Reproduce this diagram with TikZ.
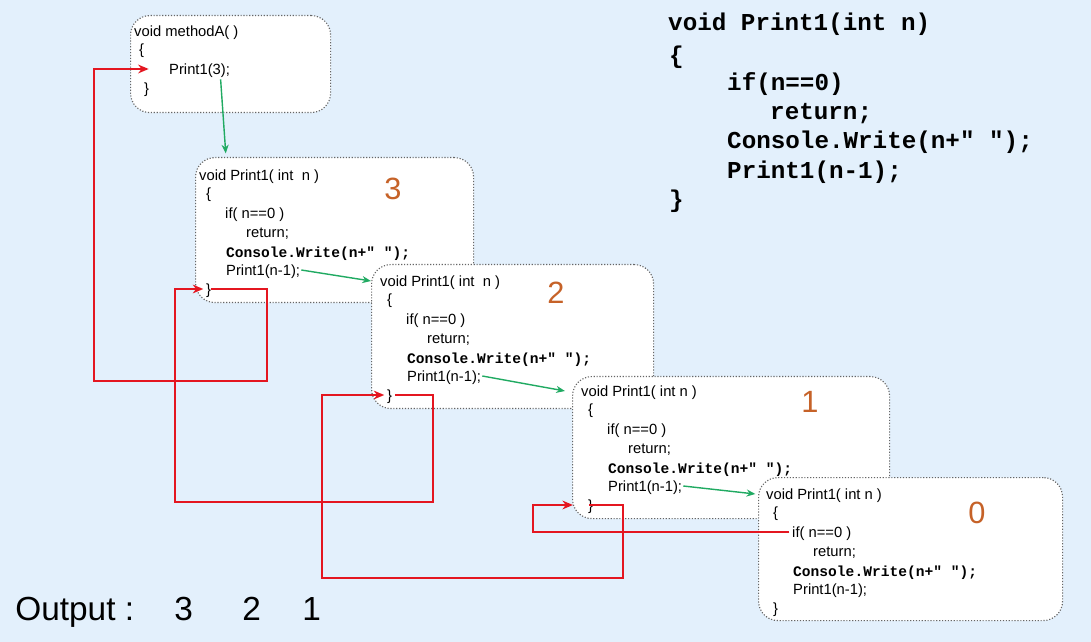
\documentclass[tikz,border=0pt]{standalone}
\usepackage{fontspec}
\setmainfont{Liberation Sans}
\setmonofont{Liberation Mono}
\usetikzlibrary{arrows.meta}

\definecolor{bgblue}{RGB}{227,240,252}
\definecolor{retred}{RGB}{228,22,32}
\definecolor{callgreen}{RGB}{32,170,98}
\definecolor{countorange}{RGB}{198,98,40}

\newcommand{\cwline}{{\fontsize{8.3}{10}\selectfont\ttfamily\bfseries Console.Write(n+" ");}}

\tikzset{
  frame/.style={draw=black!60, densely dotted, line width=0.65pt, fill=white, rounded corners=11pt, inner sep=0pt},
  code/.style={anchor=west, inner sep=0.5pt, font=\fontsize{8.4}{10}\selectfont, text height=8.5pt, text depth=2pt},
  bigcode/.style={anchor=west, inner sep=0.5pt, font=\fontsize{13.8}{16}\selectfont\ttfamily\bfseries, text height=11pt, text depth=3pt},
  count/.style={text=countorange, font=\fontsize{17.5}{20}\selectfont},
  output/.style={anchor=base west, inner sep=0pt, font=\fontsize{19}{22}\selectfont},
  call/.style={draw=callgreen, line width=0.8pt, -{Stealth[length=5pt,width=4pt]}},
  ret/.style={draw=retred, line width=0.9pt, -{Stealth[length=6pt,width=5pt]}},
}

\begin{document}
\begin{tikzpicture}[x=0.2mm,y=-0.2mm]
  \fill[bgblue] (0,0) rectangle (1091,642);
  \useasboundingbox (0,0) rectangle (1091,642);

  % caller
  \node[frame, anchor=north west, minimum width=40mm, minimum height=19.4mm] (ma) at (130,15) {};
  \node[code] (mhead) at (133,31) {void methodA( )};
  \node[code] (mopen) at (138,49) {\{};
  \node[code] (mcall) at (168,69) {Print1(3);};
  \node[code] (mclose) at (143,88) {\}};

  % the four calls of Print1
  \foreach \i/\x/\y/\xb/\yb/\tx/\ty/\nx/\ny/\head in {
      3/195/157/473/302/198/175/393/189/void Print1( int\ \ n ),
      2/371/264/653/408/379/281/556/293/void Print1( int\ \ n ),
      1/572/376/889/518/580/391/810/402/void Print1( int n ),
      0/758/477/1062/620/765/494/977/513/void Print1( int n )} {
    \node[frame, anchor=north west, minimum width={(\xb-\x)*0.2mm}, minimum height={(\yb-\y)*0.2mm}] (b\i) at (\x,\y) {};
    \node[code] (h\i) at (\tx,\ty) {\head};
    \node[code] (o\i) at (\tx+7,\ty+18) {\{};
    \node[code] (f\i) at (\tx+26,\ty+38) {if( n==0 )};
    \node[code] (r\i) at (\tx+47,\ty+57) {return;};
    \node[code] (w\i) at (\tx+27,\ty+77) {\cwline};
    \node[code] (p\i) at (\tx+27,\ty+95) {Print1(n-1);};
    \node[code] (c\i) at (\tx+7,\ty+114) {\}};
    \node[count] (n\i) at (\nx,\ny) {\i};
  }

  % source code on the right
  \node[bigcode] (k1) at (667,23) {void Print1(int n)};
  \node[bigcode] (k2) at (668,56) {\{};
  \node[bigcode] (k3) at (726,83) {if(n==0)};
  \node[bigcode] (k4) at (769,112) {return;};
  \node[bigcode] (k5) at (726,141) {Console.Write(n+" ");};
  \node[bigcode] (k6) at (726,171) {Print1(n-1);};
  \node[bigcode] (k7) at (668,200) {\}};

  % output
  \node[output] (out) at (15,620) {Output :};
  \node[output] (out3) at (174,620) {3};
  \node[output] (out2) at (242,620) {2};
  \node[output] (out1) at (302,620) {1};

  % calls
  \draw[call] ([xshift=-6pt]mcall.south east) -- ([xshift=17.5pt,yshift=2pt]b3.north west);
  \draw[call] (p3.east) -- (h2 -| b2.west);
  \draw[call] (p2.east) -- ([xshift=-4pt]h1 -| b1.west);
  \draw[call] (p1.east) -- ([xshift=-1.5pt]h0 -| b0.west);

  % returns
  \draw[ret] ([xshift=-1pt]c3.east) -| (267,381) -- (94,381) |- ([xshift=-11pt]mcall.west);
  \draw[ret] ([xshift=1pt]c2.east) -| (433,502) -- (175,502) |- ([xshift=-1pt]c3.west);
  \draw[ret] ([xshift=-3pt]c1.east) -| (623,578) -- (322,578) |- ([xshift=-1pt]c2.west);
  \draw[ret] ([xshift=-1pt]f0.west) -- ++(-256,0) |- ([xshift=-8pt]c1.west);
\end{tikzpicture}
\end{document}
